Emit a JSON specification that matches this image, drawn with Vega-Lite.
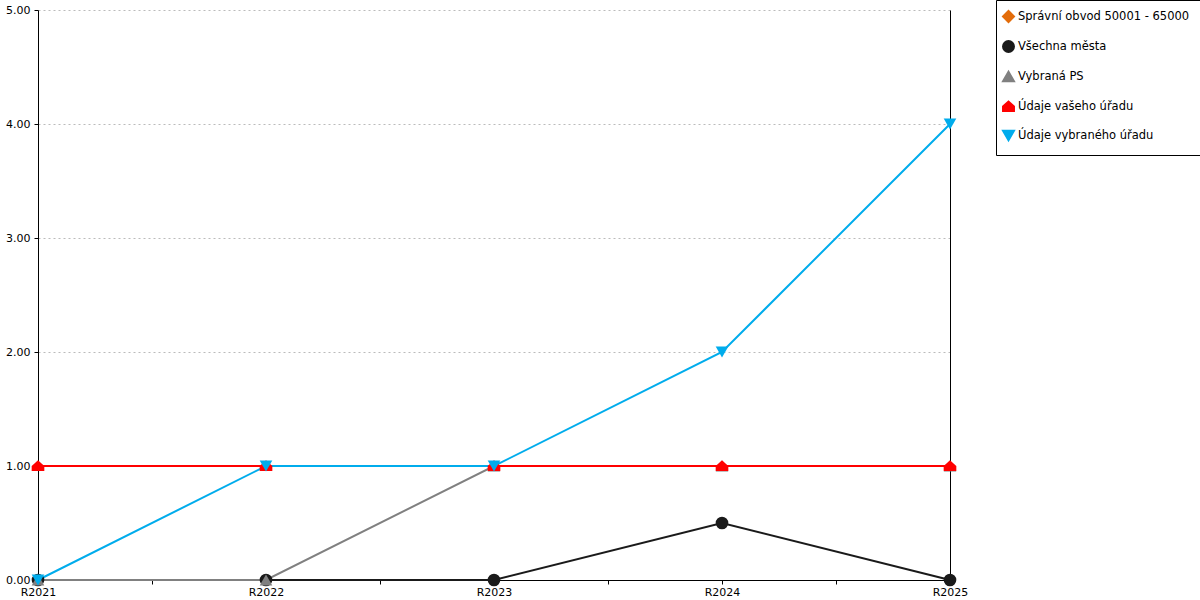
{
  "$schema": "https://vega.github.io/schema/vega-lite/v6.json",
  "description": "Vývoj ukazatele R2021 - R2025",
  "autosize": "none",
  "width": 912,
  "height": 570,
  "padding": {"left": 38, "top": 10, "right": 250, "bottom": 20},
  "config": {
    "font": "DejaVu Sans",
    "view": {"stroke": null},
    "axis": {
      "labelFont": "DejaVu Sans",
      "labelFontSize": 11,
      "labelColor": "#000000",
      "domainColor": "#000000",
      "tickColor": "#000000",
      "title": null
    }
  },
  "data": {
    "values": [
      {"rok": 2021, "serie": "Všechna města", "hodnota": 0},
      {"rok": 2022, "serie": "Všechna města", "hodnota": 0},
      {"rok": 2023, "serie": "Všechna města", "hodnota": 0},
      {"rok": 2024, "serie": "Všechna města", "hodnota": 0.5},
      {"rok": 2025, "serie": "Všechna města", "hodnota": 0},
      {"rok": 2021, "serie": "Vybraná PS", "hodnota": 0},
      {"rok": 2022, "serie": "Vybraná PS", "hodnota": 0},
      {"rok": 2023, "serie": "Vybraná PS", "hodnota": 1},
      {"rok": 2024, "serie": "Vybraná PS", "hodnota": 1},
      {"rok": 2025, "serie": "Vybraná PS", "hodnota": 1},
      {"rok": 2021, "serie": "Údaje vašeho úřadu", "hodnota": 1},
      {"rok": 2022, "serie": "Údaje vašeho úřadu", "hodnota": 1},
      {"rok": 2023, "serie": "Údaje vašeho úřadu", "hodnota": 1},
      {"rok": 2024, "serie": "Údaje vašeho úřadu", "hodnota": 1},
      {"rok": 2025, "serie": "Údaje vašeho úřadu", "hodnota": 1},
      {"rok": 2021, "serie": "Údaje vybraného úřadu", "hodnota": 0},
      {"rok": 2022, "serie": "Údaje vybraného úřadu", "hodnota": 1},
      {"rok": 2023, "serie": "Údaje vybraného úřadu", "hodnota": 1},
      {"rok": 2024, "serie": "Údaje vybraného úřadu", "hodnota": 2},
      {"rok": 2025, "serie": "Údaje vybraného úřadu", "hodnota": 4}
    ]
  },
  "encoding": {
    "x": {
      "field": "rok",
      "type": "quantitative",
      "scale": {"domain": [2021, 2025], "nice": false, "zero": false},
      "axis": {
        "values": [2021, 2021.5, 2022, 2022.5, 2023, 2023.5, 2024, 2024.5, 2025],
        "labelExpr": "datum.value % 1 === 0 ? 'R' + datum.value : ''",
        "labelFlush": false,
        "labelOverlap": false,
        "grid": false,
        "tickSize": 4,
        "labelPadding": 2
      }
    },
    "y": {
      "field": "hodnota",
      "type": "quantitative",
      "scale": {"domain": [0, 5], "nice": false}
    },
    "color": {
      "field": "serie",
      "type": "nominal",
      "scale": {
        "domain": ["Správní obvod 50001 - 65000", "Všechna města", "Vybraná PS", "Údaje vašeho úřadu", "Údaje vybraného úřadu"],
        "range": ["#e36c0a", "#1a1a1a", "#808080", "#ff0000", "#00acec"]
      },
      "legend": {
        "title": null,
        "orient": "none",
        "legendX": 958,
        "legendY": -10,
        "strokeColor": "#000000",
        "fillColor": "#ffffff",
        "padding": 10,
        "rowPadding": 11,
        "labelFontSize": 11.5,
        "labelColor": "#000000",
        "labelOffset": 3,
        "symbolSize": 120,
        "symbolOffset": -4,
        "symbolStrokeWidth": 0,
        "labelLimit": 300
      }
    }
  },
  "layer": [
    {
      "mark": {"type": "line"},
      "encoding": {
        "y": {
          "field": "hodnota",
          "type": "quantitative",
          "axis": {
            "values": [0, 1, 2, 3, 4, 5],
            "format": ".2f",
            "tickSize": 4,
            "labelPadding": 4,
            "grid": true,
            "gridColor": "#bbbbbb",
            "gridDash": [2, 3],
            "gridWidth": 1
          }
        },
        "strokeWidth": {
          "field": "serie",
          "type": "nominal",
          "scale": {
            "domain": ["Správní obvod 50001 - 65000", "Všechna města", "Vybraná PS", "Údaje vašeho úřadu", "Údaje vybraného úřadu"],
            "range": [2, 2, 2, 2, 1.5]
          },
          "legend": null
        }
      }
    },
    {
      "mark": {"type": "point", "filled": true, "opacity": 1, "size": 160},
      "encoding": {
        "y": {
          "field": "hodnota",
          "type": "quantitative",
          "axis": {
            "orient": "right",
            "labels": false,
            "ticks": false,
            "grid": false
          }
        },
        "shape": {
          "field": "serie",
          "type": "nominal",
          "scale": {
            "domain": ["Správní obvod 50001 - 65000", "Všechna města", "Vybraná PS", "Údaje vašeho úřadu", "Údaje vybraného úřadu"],
            "range": ["diamond", "circle", "triangle-up", "M-1,0.8L-1,0L0,-0.9L1,0L1,0.8Z", "triangle-down"]
          }
        }
      }
    }
  ],
  "resolve": {"axis": {"y": "independent"}}
}
